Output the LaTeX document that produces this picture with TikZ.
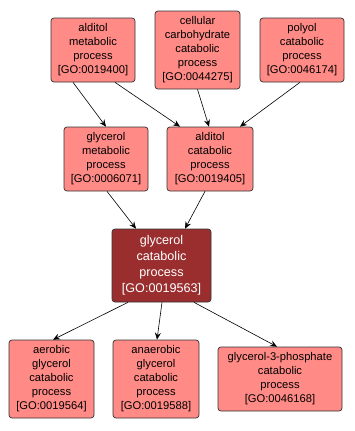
\documentclass[tikz,border=0pt]{standalone}
\usepackage{fontspec}
\setmainfont{Liberation Sans}
\usetikzlibrary{arrows.meta}
\definecolor{gopink}{HTML}{FF8A86}
\definecolor{godark}{HTML}{9A2E2F}
\begin{document}
\begin{tikzpicture}[x=1pt,y=-1pt,
  term/.style={draw=black!80, line width=0.7pt, fill=gopink, rounded corners=3pt,
    align=center, font=\fontsize{11.2}{14}\selectfont, inner sep=0pt},
  focus/.style={term, fill=godark, text=white, font=\fontsize{12.6}{16}\selectfont},
  edge/.style={draw=black, line width=0.6pt, -{Stealth[length=7pt,width=6pt,inset=2.5pt]}}]
\useasboundingbox (0,0) rectangle (354,431);
\node[term, minimum width=84pt, minimum height=64pt] (A) at (93,50) {alditol\\metabolic\\process\\{[}GO:0019400{]}};
\node[term, minimum width=85pt, minimum height=78pt] (B) at (197.5,50) {cellular\\carbohydrate\\catabolic\\process\\{[}GO:0044275{]}};
\node[term, minimum width=84pt, minimum height=64pt] (C) at (302,50) {polyol\\catabolic\\process\\{[}GO:0046174{]}};
\node[term, minimum width=84pt, minimum height=64pt] (D) at (106,159) {glycerol\\metabolic\\process\\{[}GO:0006071{]}};
\node[term, minimum width=86pt, minimum height=64pt] (E) at (210,159) {alditol\\catabolic\\process\\{[}GO:0019405{]}};
\node[focus, minimum width=99pt, minimum height=73pt] (F) at (161.5,265.5) {glycerol\\catabolic\\process\\{[}GO:0019563{]}};
\node[term, minimum width=85pt, minimum height=78pt] (G) at (51.5,379) {aerobic\\glycerol\\catabolic\\process\\{[}GO:0019564{]}};
\node[term, minimum width=86pt, minimum height=78pt] (H) at (156,379) {anaerobic\\glycerol\\catabolic\\process\\{[}GO:0019588{]}};
\node[term, minimum width=124pt, minimum height=64pt] (I) at (280,379) {glycerol-3-phosphate\\catabolic\\process\\{[}GO:0046168{]}};
\draw[edge] ([xshift=-20pt]A.south) -- (D.north);
\draw[edge] ([xshift=22pt]A.south) -- ([xshift=-30pt]E.north);
\draw[edge] (B.south) -- ([xshift=-1pt]E.north);
\draw[edge] ([xshift=-2pt]C.south) -- ([xshift=30pt]E.north);
\draw[edge] ([xshift=1pt]D.south) -- ([xshift=-25.5pt]F.north);
\draw[edge] ([xshift=-5pt]E.south) -- ([xshift=23.5pt]F.north);
\draw[edge] ([xshift=-33.5pt]F.south) -- ([xshift=1.5pt]G.north);
\draw[edge] ([xshift=0.5pt]F.south) -- ([xshift=1pt]H.north);
\draw[edge] ([xshift=32.5pt]F.south) -- ([xshift=-3pt]I.north);
\end{tikzpicture}
\end{document}
